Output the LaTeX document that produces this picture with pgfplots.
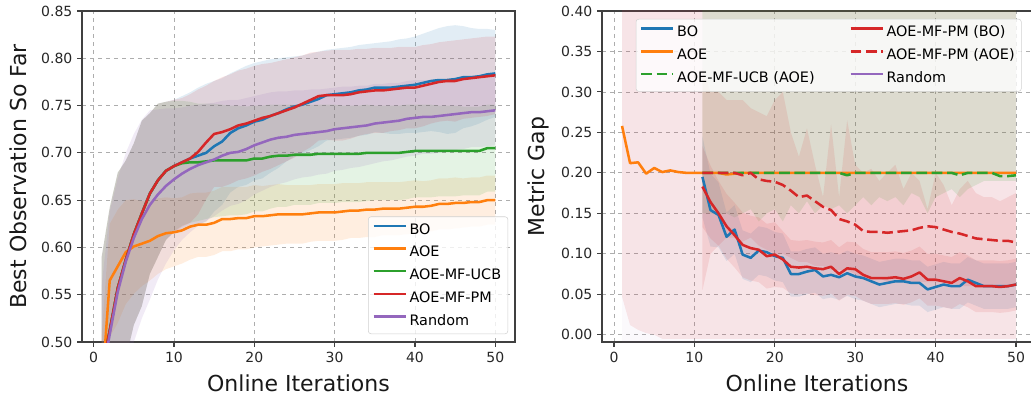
\documentclass[border=0pt]{standalone}
\usepackage{fontspec}
\setmainfont{DejaVu Sans}
\usepackage{pgfplots}
\usepackage{pgfplotstable}
\pgfplotsset{compat=1.18}
\usepgfplotslibrary{fillbetween}

\definecolor{cBO}{HTML}{1F77B4}
\definecolor{cAOE}{HTML}{FF7F0E}
\definecolor{cUCB}{HTML}{2CA02C}
\definecolor{cPM}{HTML}{D62728}
\definecolor{cRND}{HTML}{9467BD}

\pgfplotstableread{
x bo bos aoe aoes ucb ucbs pm pms rnd rnds
1 0.470 0.120 0.447 0.060 0.470 0.120 0.470 0.120 0.460 0.100
2 0.512 0.130 0.565 0.060 0.512 0.130 0.512 0.130 0.508 0.130
3 0.557 0.122 0.580 0.060 0.557 0.122 0.557 0.122 0.553 0.120
4 0.587 0.105 0.595 0.055 0.587 0.105 0.587 0.105 0.585 0.115
5 0.614 0.096 0.601 0.050 0.614 0.096 0.614 0.096 0.610 0.110
6 0.636 0.098 0.604 0.045 0.636 0.098 0.636 0.098 0.630 0.105
7 0.657 0.085 0.607 0.042 0.657 0.085 0.657 0.085 0.645 0.100
8 0.671 0.081 0.612 0.040 0.671 0.081 0.671 0.081 0.656 0.090
9 0.681 0.073 0.615 0.038 0.681 0.073 0.681 0.073 0.665 0.082
10 0.686 0.070 0.616 0.036 0.686 0.069 0.686 0.070 0.672 0.075
11 0.690 0.070 0.618 0.035 0.689 0.066 0.690 0.068 0.678 0.070
12 0.694 0.070 0.622 0.035 0.690 0.064 0.694 0.068 0.683 0.067
13 0.697 0.072 0.624 0.034 0.690 0.062 0.701 0.066 0.687 0.064
14 0.700 0.073 0.624 0.034 0.691 0.061 0.711 0.060 0.690 0.062
15 0.707 0.069 0.626 0.034 0.692 0.060 0.720 0.056 0.693 0.060
16 0.712 0.067 0.630 0.034 0.692 0.059 0.722 0.058 0.697 0.058
17 0.721 0.063 0.630 0.034 0.692 0.058 0.725 0.058 0.700 0.056
18 0.726 0.062 0.631 0.033 0.692 0.058 0.729 0.058 0.701 0.055
19 0.729 0.063 0.631 0.033 0.692 0.057 0.731 0.058 0.704 0.054
20 0.733 0.062 0.633 0.033 0.694 0.056 0.734 0.058 0.708 0.052
21 0.735 0.062 0.633 0.032 0.694 0.056 0.737 0.057 0.711 0.051
22 0.739 0.060 0.634 0.032 0.696 0.055 0.739 0.056 0.714 0.050
23 0.742 0.058 0.635 0.032 0.697 0.054 0.742 0.055 0.716 0.049
24 0.746 0.055 0.635 0.031 0.697 0.054 0.745 0.054 0.717 0.048
25 0.749 0.053 0.635 0.031 0.698 0.053 0.748 0.053 0.719 0.047
26 0.751 0.052 0.635 0.031 0.698 0.053 0.752 0.051 0.720 0.046
27 0.754 0.051 0.636 0.030 0.698 0.053 0.756 0.050 0.721 0.046
28 0.757 0.050 0.637 0.030 0.699 0.052 0.760 0.047 0.722 0.045
29 0.761 0.048 0.637 0.030 0.699 0.052 0.761 0.047 0.723 0.045
30 0.762 0.048 0.637 0.030 0.699 0.052 0.761 0.048 0.725 0.044
31 0.763 0.048 0.638 0.030 0.699 0.051 0.761 0.048 0.726 0.044
32 0.764 0.048 0.639 0.029 0.699 0.051 0.762 0.047 0.727 0.043
33 0.766 0.048 0.639 0.029 0.699 0.051 0.764 0.046 0.728 0.043
34 0.767 0.048 0.640 0.029 0.700 0.051 0.765 0.045 0.729 0.042
35 0.769 0.047 0.640 0.029 0.700 0.050 0.766 0.045 0.731 0.042
36 0.769 0.048 0.641 0.028 0.700 0.050 0.766 0.045 0.732 0.041
37 0.769 0.049 0.641 0.028 0.700 0.050 0.767 0.044 0.733 0.041
38 0.770 0.050 0.641 0.028 0.700 0.050 0.768 0.044 0.734 0.040
39 0.771 0.050 0.642 0.028 0.701 0.050 0.769 0.043 0.736 0.040
40 0.772 0.051 0.643 0.028 0.702 0.049 0.769 0.043 0.737 0.040
41 0.774 0.052 0.643 0.027 0.702 0.049 0.771 0.043 0.738 0.039
42 0.776 0.053 0.644 0.027 0.702 0.049 0.773 0.042 0.738 0.039
43 0.777 0.055 0.646 0.027 0.702 0.048 0.775 0.042 0.739 0.039
44 0.777 0.057 0.646 0.027 0.702 0.048 0.776 0.042 0.740 0.038
45 0.778 0.057 0.647 0.027 0.702 0.048 0.776 0.043 0.741 0.038
46 0.780 0.054 0.647 0.026 0.702 0.047 0.778 0.042 0.742 0.038
47 0.780 0.052 0.648 0.026 0.702 0.047 0.779 0.042 0.743 0.037
48 0.781 0.050 0.648 0.026 0.702 0.047 0.780 0.042 0.743 0.037
49 0.783 0.048 0.650 0.026 0.705 0.046 0.781 0.042 0.744 0.037
50 0.784 0.046 0.650 0.026 0.705 0.046 0.782 0.041 0.745 0.037
}\leftdata

\pgfplotstableread{
x aoe aolo aohi rlo rhi
1 0.258 0.047 0.45 -0.01 0.45
2 0.212 0.012 0.45 -0.01 0.45
3 0.213 0.006 0.45 -0.01 0.45
4 0.199 0.002 0.45 -0.01 0.45
5 0.206 0.000 0.45 -0.01 0.45
6 0.201 -0.005 0.45 -0.01 0.45
7 0.203 -0.005 0.45 -0.01 0.45
8 0.201 -0.005 0.45 -0.01 0.45
9 0.200 -0.005 0.45 -0.01 0.45
10 0.200 -0.005 0.45 -0.01 0.45
11 0.200 -0.005 0.45 -0.01 0.45
12 0.200 -0.005 0.45 -0.01 0.45
13 0.200 -0.005 0.45 -0.01 0.45
14 0.198 -0.005 0.45 -0.01 0.45
15 0.199 -0.005 0.45 -0.01 0.45
16 0.200 -0.005 0.45 -0.01 0.45
20 0.200 -0.005 0.45 -0.01 0.45
25 0.200 -0.005 0.45 -0.01 0.45
30 0.200 -0.005 0.45 -0.01 0.45
35 0.200 -0.005 0.45 -0.01 0.45
40 0.200 -0.005 0.45 -0.01 0.45
45 0.200 -0.005 0.45 -0.01 0.45
50 0.200 -0.005 0.45 -0.01 0.45
}\rightA

\pgfplotstableread{
x bo bos ucb uclo pmb pmbs pma palo pahi
11 0.195 0.050 0.200 0.150 0.183 0.050 0.200 0.055 0.330
12 0.154 0.045 0.200 0.150 0.164 0.045 0.200 0.100 0.300
13 0.148 0.040 0.200 0.148 0.150 0.040 0.200 0.110 0.300
14 0.121 0.030 0.200 0.150 0.134 0.040 0.200 0.120 0.290
15 0.130 0.030 0.200 0.145 0.123 0.040 0.200 0.120 0.290
16 0.099 0.030 0.200 0.150 0.111 0.040 0.197 0.115 0.290
17 0.095 0.030 0.200 0.155 0.107 0.040 0.200 0.120 0.280
18 0.104 0.030 0.200 0.140 0.105 0.040 0.192 0.110 0.275
19 0.102 0.030 0.200 0.150 0.097 0.040 0.190 0.105 0.270
20 0.097 0.030 0.200 0.155 0.099 0.040 0.189 0.100 0.290
21 0.095 0.030 0.200 0.140 0.093 0.035 0.185 0.100 0.300
22 0.075 0.028 0.200 0.160 0.084 0.033 0.178 0.095 0.250
23 0.075 0.028 0.200 0.150 0.083 0.033 0.170 0.090 0.220
24 0.078 0.028 0.200 0.165 0.084 0.033 0.172 0.090 0.255
25 0.080 0.028 0.200 0.150 0.082 0.033 0.165 0.085 0.210
26 0.072 0.028 0.200 0.160 0.081 0.033 0.158 0.085 0.170
27 0.074 0.028 0.200 0.155 0.084 0.033 0.154 0.080 0.260
28 0.071 0.028 0.200 0.160 0.075 0.033 0.143 0.080 0.170
29 0.076 0.028 0.197 0.150 0.082 0.033 0.140 0.080 0.265
30 0.072 0.028 0.200 0.160 0.081 0.033 0.136 0.075 0.210
31 0.070 0.028 0.200 0.170 0.074 0.032 0.128 0.070 0.200
32 0.066 0.028 0.200 0.160 0.070 0.032 0.127 0.070 0.205
33 0.062 0.028 0.200 0.170 0.070 0.032 0.127 0.070 0.190
34 0.064 0.028 0.200 0.165 0.070 0.032 0.126 0.065 0.200
35 0.066 0.028 0.200 0.170 0.071 0.032 0.127 0.065 0.210
36 0.066 0.028 0.200 0.160 0.069 0.032 0.128 0.065 0.180
37 0.064 0.028 0.200 0.175 0.072 0.032 0.129 0.065 0.200
38 0.064 0.028 0.200 0.170 0.077 0.032 0.132 0.065 0.190
39 0.056 0.028 0.200 0.150 0.068 0.032 0.134 0.065 0.155
40 0.059 0.028 0.200 0.170 0.068 0.032 0.133 0.065 0.200
41 0.062 0.028 0.200 0.175 0.066 0.032 0.130 0.065 0.185
42 0.060 0.028 0.200 0.180 0.064 0.032 0.127 0.065 0.160
43 0.060 0.028 0.197 0.170 0.070 0.032 0.125 0.060 0.180
44 0.068 0.028 0.200 0.180 0.066 0.032 0.122 0.060 0.190
45 0.064 0.028 0.200 0.185 0.060 0.032 0.119 0.060 0.175
46 0.060 0.028 0.200 0.190 0.060 0.032 0.118 0.060 0.170
47 0.060 0.028 0.200 0.190 0.060 0.032 0.117 0.060 0.170
48 0.060 0.028 0.196 0.190 0.059 0.032 0.116 0.060 0.165
49 0.060 0.028 0.196 0.190 0.060 0.032 0.116 0.060 0.170
50 0.062 0.028 0.197 0.190 0.062 0.032 0.114 0.060 0.175
}\rightB

% band: mean +/- std
\newcommand{\bandms}[6]{%
  \addplot[draw=none, forget plot, name path=#5u] table[x=x, y expr=\thisrow{#2}+\thisrow{#3}] {#1};
  \addplot[draw=none, forget plot, name path=#5l] table[x=x, y expr=\thisrow{#2}-\thisrow{#3}] {#1};
  \addplot[fill=#4, fill opacity=#6, draw=none, forget plot] fill between[of=#5u and #5l];
}
% band: explicit lower/upper
\newcommand{\bandlh}[6]{%
  \addplot[draw=none, forget plot, name path=#5u] table[x=x, y=#3] {#1};
  \addplot[draw=none, forget plot, name path=#5l] table[x=x, y=#2] {#1};
  \addplot[fill=#4, fill opacity=#6, draw=none, forget plot] fill between[of=#5u and #5l];
}

\pgfplotsset{
  mystyle/.style={
    scale only axis,
    grid=major,
    grid style={dashed, color=black!32, line width=0.6pt},
    axis line style={black!75, line width=0.8pt},
    tick align=outside, tick pos=left, major tick length=3.7pt,
    tick style={black!75, line width=0.8pt},
    xtick={0,10,20,30,40,50},
    ticklabel style={font=\fontsize{10.5}{12}\selectfont, color=black!85},
    /pgf/number format/assume math mode=true,
    label style={font=\fontsize{16.5}{19}\selectfont, color=black!90},
    xlabel={Online Iterations},
    xlabel style={at={(axis description cs:0.5,-0.15)}, anchor=base},
    ylabel style={at={(axis description cs:-0.148,0.5)}, anchor=center},
    legend cell align=left,
    legend image code/.code={\draw[##1, line width=1.9pt] (0pt,0.3em) -- (24pt,0.3em);},
    legend style={draw=black!18, rounded corners=2pt, fill=white, fill opacity=0.8,
      draw opacity=1, text opacity=1, font=\fontsize{10.8}{13}\selectfont,
      inner xsep=3pt, inner ysep=3pt, row sep=3.5pt},
    every axis plot/.append style={line width=1.9pt, line join=round},
  }
}

\begin{document}
\begin{tikzpicture}

% ---------- Left ----------
\begin{axis}[mystyle,
  at={(61.5pt,43.5pt)}, anchor=south west,
  width=324.75pt, height=248.25pt,
  xmin=-1.45, xmax=52.45, ymin=0.5, ymax=0.85,
  ytick={0.50,0.55,0.60,0.65,0.70,0.75,0.80,0.85},
  yticklabel style={/pgf/number format/.cd, fixed, fixed zerofill, precision=2},
  ylabel={Best Observation So Far},
  legend style={at={(axis description cs:0.984,0.024)}, anchor=south east},
]
\bandms{\leftdata}{bo}{bos}{cBO}{lb}{0.13}
\bandms{\leftdata}{aoe}{aoes}{cAOE}{la}{0.13}
\bandms{\leftdata}{ucb}{ucbs}{cUCB}{lu}{0.13}
\bandms{\leftdata}{pm}{pms}{cPM}{lp}{0.13}
\bandms{\leftdata}{rnd}{rnds}{cRND}{lr}{0.13}
\addplot[cBO] table[x=x, y=bo] {\leftdata}; \addlegendentry{BO}
\addplot[cAOE] table[x=x, y=aoe] {\leftdata}; \addlegendentry{AOE}
\addplot[cUCB] table[x=x, y=ucb] {\leftdata}; \addlegendentry{AOE-MF-UCB}
\addplot[cPM] table[x=x, y=pm] {\leftdata}; \addlegendentry{AOE-MF-PM}
\addplot[cRND] table[x=x, y=rnd] {\leftdata}; \addlegendentry{Random}
\end{axis}

% ---------- Right ----------
\begin{axis}[mystyle,
  at={(451.5pt,43.5pt)}, anchor=south west,
  width=322.5pt, height=248.25pt,
  xmin=-1.49, xmax=51.99, ymin=-0.009, ymax=0.4,
  ytick={0,0.05,0.10,0.15,0.20,0.25,0.30,0.35,0.40},
  yticklabel style={/pgf/number format/.cd, fixed, fixed zerofill, precision=2},
  ylabel={Metric Gap},
  legend columns=2,
  legend style={at={(axis description cs:0.0785,0.976)}, anchor=north west,
    /tikz/every even column/.append style={column sep=24pt}},
]
\bandlh{\rightA}{rlo}{rhi}{cRND}{rr}{0.04}
\bandlh{\rightA}{aolo}{aohi}{cPM}{ra}{0.10}
\addplot[draw=none, forget plot, name path=ruu] table[x=x, y expr=0.45] {\rightB};
\addplot[draw=none, forget plot, name path=rul] table[x=x, y=uclo] {\rightB};
\addplot[fill=cUCB, fill opacity=0.13, draw=none, forget plot] fill between[of=ruu and rul];
\bandms{\rightB}{bo}{bos}{cBO}{rb}{0.12}
\bandms{\rightB}{pmb}{pmbs}{cPM}{rp}{0.11}
\bandlh{\rightB}{palo}{pahi}{cPM}{rq}{0.11}

\addplot[cBO, forget plot] table[x=x, y=bo] {\rightB};
\addplot[cAOE, forget plot] table[x=x, y=aoe] {\rightA};
\addplot[cUCB, dash pattern=on 8pt off 3.5pt, forget plot] table[x=x, y=ucb] {\rightB};
\addplot[cPM, forget plot] table[x=x, y=pmb] {\rightB};
\addplot[cPM, dash pattern=on 8pt off 3.5pt, forget plot] table[x=x, y=pma] {\rightB};

\addlegendimage{cBO}\addlegendentry{BO}
\addlegendimage{cPM}\addlegendentry{AOE-MF-PM (BO)}
\addlegendimage{cAOE}\addlegendentry{AOE}
\addlegendimage{cPM, dash pattern=on 8pt off 3.5pt}\addlegendentry{AOE-MF-PM (AOE)}
\addlegendimage{cUCB, dash pattern=on 8pt off 3.5pt}\addlegendentry{AOE-MF-UCB (AOE)}
\addlegendimage{cRND}\addlegendentry{Random}
\end{axis}

\pgfresetboundingbox
\path[use as bounding box] (0,0) rectangle (773.25pt,300pt);
\end{tikzpicture}
\end{document}
